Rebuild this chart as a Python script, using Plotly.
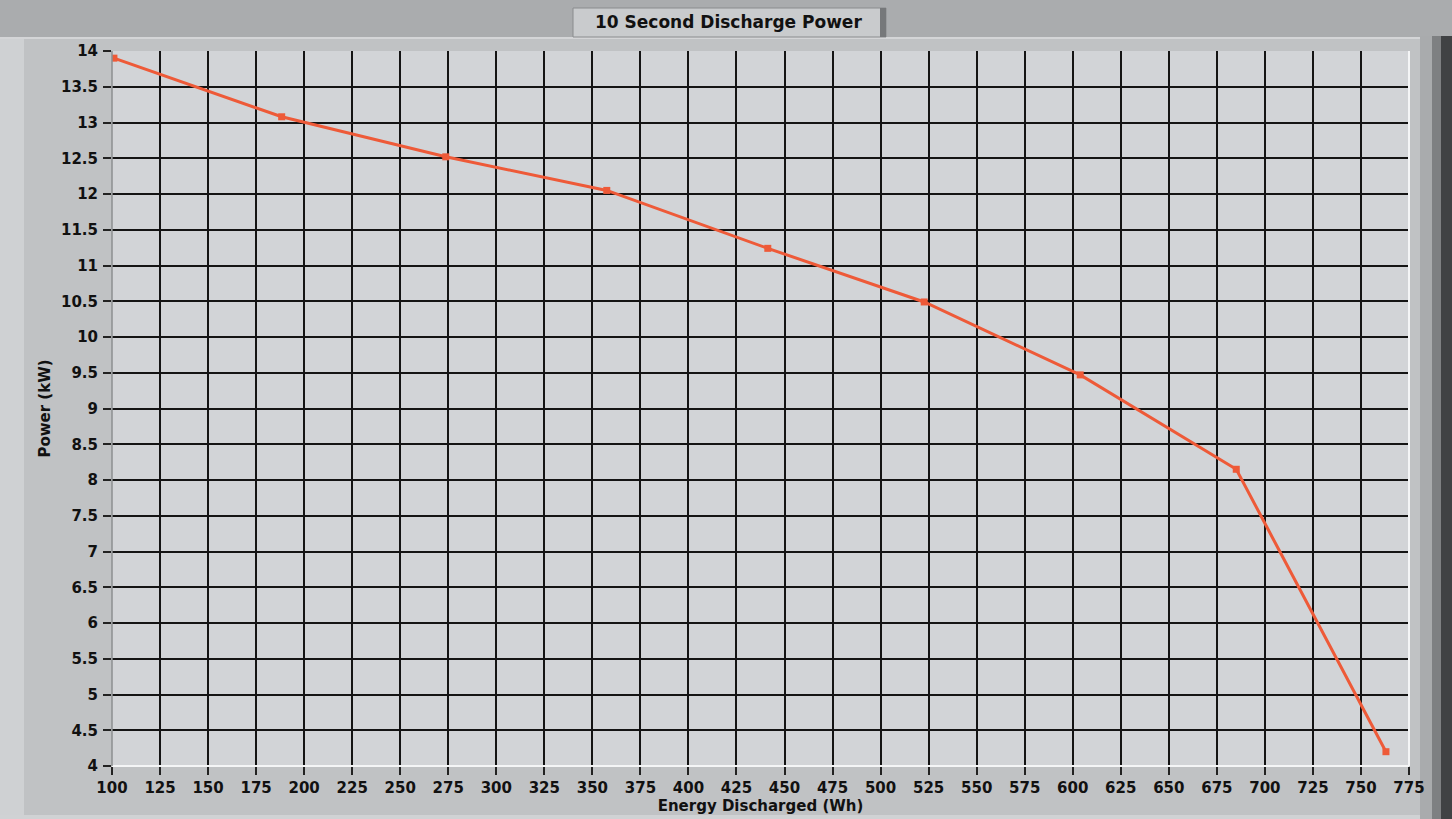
import plotly.graph_objects as go

energy_wh = [101, 188.3, 273.7, 357.5, 441.3, 522.7, 603.9, 685.1, 763]
power_kw = [13.9, 13.08, 12.52, 12.05, 11.24, 10.49, 9.47, 8.15, 4.2]

x_ticks = list(range(100, 776, 25))
y_ticks = [4 + 0.5 * i for i in range(21)]
y_labels = [("%g" % v) for v in y_ticks]

W, H = 1452, 819
L, R, T, B = 112, 43, 51, 53
pw, ph = W - L - R, H - T - B

def px(x):
    return (x - L) / pw

def py(y):
    return 1 - (y - T) / ph

fig = go.Figure()
fig.add_trace(go.Scatter(
    x=energy_wh, y=power_kw, mode="lines+markers",
    line=dict(color="#ee5a38", width=3),
    marker=dict(symbol="square", size=7, color="#ee5a38"),
    showlegend=False, hoverinfo="x+y",
))

tickfont = dict(family="DejaVu Sans", size=15, color="#111111", weight="bold")
titlefont = dict(family="DejaVu Sans", size=15, color="#111111", weight="bold")

shapes = [
    # left light strip
    dict(type="rect", xref="paper", yref="paper", x0=px(0), x1=px(24), y0=py(H), y1=py(38),
         fillcolor="#cfd1d3", line=dict(width=0), layer="below"),
    # bottom light strip
    dict(type="rect", xref="paper", yref="paper", x0=px(0), x1=px(1425), y0=py(H), y1=py(815),
         fillcolor="#d0d2d4", line=dict(width=0), layer="below"),
    # top banner
    dict(type="rect", xref="paper", yref="paper", x0=px(0), x1=px(W), y0=py(38), y1=py(0),
         fillcolor="#aaacae", line=dict(width=0), layer="below"),
    dict(type="line", xref="paper", yref="paper", x0=px(0), x1=px(1430), y0=py(38), y1=py(38),
         line=dict(color="#d4d5d7", width=2), layer="below"),
    # right edge
    dict(type="rect", xref="paper", yref="paper", x0=px(1420), x1=px(1432), y0=py(H), y1=py(36),
         fillcolor="#a9abad", line=dict(width=0), layer="below"),
    dict(type="rect", xref="paper", yref="paper", x0=px(1432), x1=px(1441), y0=py(H), y1=py(36),
         fillcolor="#7e8082", line=dict(width=0), layer="below"),
    dict(type="rect", xref="paper", yref="paper", x0=px(1441), x1=px(W), y0=py(H), y1=py(36),
         fillcolor="#404244", line=dict(width=0), layer="below"),
    # title button
    dict(type="rect", xref="paper", yref="paper", x0=px(573), x1=px(886), y0=py(37), y1=py(8),
         fillcolor="#c9cbcd", line=dict(color="#8a8c8e", width=1), layer="below"),
    dict(type="rect", xref="paper", yref="paper", x0=px(880), x1=px(886), y0=py(37), y1=py(8),
         fillcolor="#76787a", line=dict(width=0), layer="below"),
    # plot borders
    dict(type="line", xref="paper", yref="paper", x0=0, x1=1, y0=0, y1=0,
         line=dict(color="#f4f5f6", width=2), layer="above"),
    dict(type="line", xref="paper", yref="paper", x0=1, x1=1, y0=0, y1=1,
         line=dict(color="#f4f5f6", width=2), layer="above"),
    dict(type="line", xref="paper", yref="paper", x0=0, x1=0, y0=0, y1=1,
         line=dict(color="#8d8f91", width=1.5), layer="above"),
]

fig.update_layout(
    width=W, height=H,
    margin=dict(l=L, r=R, t=T, b=B),
    paper_bgcolor="#c0c2c4",
    plot_bgcolor="#d2d4d7",
    shapes=shapes,
    annotations=[
        dict(text="10 Second Discharge Power", xref="paper", yref="paper",
             x=px(728), y=py(22), xanchor="center", yanchor="middle", showarrow=False,
             font=dict(family="DejaVu Sans", size=17, color="#111111", weight="bold")),
    ],
    xaxis=dict(
        range=[100, 775], tickvals=x_ticks, ticktext=[str(v) for v in x_ticks],
        showgrid=True, gridcolor="#141414", gridwidth=2,
        ticks="outside", ticklen=8, tickwidth=2, tickcolor="#222222",
        tickfont=tickfont, zeroline=False, showline=False, automargin=False,
        title=dict(text="Energy Discharged (Wh)", standoff=3, font=titlefont),
    ),
    yaxis=dict(
        range=[4, 14], tickvals=y_ticks, ticktext=y_labels,
        showgrid=True, gridcolor="#141414", gridwidth=2,
        ticks="outside", ticklen=8, tickwidth=2, tickcolor="#222222",
        tickfont=tickfont, zeroline=False, showline=False, ticklabelstandoff=2,
        automargin=False,
        title=dict(text="Power (kW)", standoff=6, font=titlefont),
    ),
)

fig.write_html(
    "out.html",
    config={"displayModeBar": False},
    post_script="document.body.style.margin='0';document.body.style.overflow='hidden';",
)
